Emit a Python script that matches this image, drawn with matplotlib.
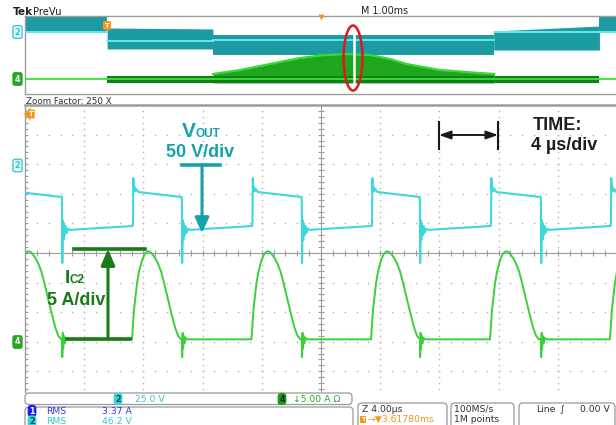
import numpy as np
import matplotlib
matplotlib.use("Agg")
import matplotlib.pyplot as plt
from matplotlib.patches import Ellipse, FancyBboxPatch

# ------------------------------------------------------------------
# Zoomed window: 4 us/div horizontally, channel scales from the labels
# ------------------------------------------------------------------
US_PER_DIV = 4.0
VOUT_V_PER_DIV = 50.0
IC2_A_PER_DIV = 5.0
VOUT_GND_DIV = 3.0      # channel-2 ground marker position (div)
IC2_GND_DIV = -3.0      # channel-4 ground marker position (div)

# VOUT switching edges (us)
vout_rise_us = [-0.78, 7.30, 15.37, 23.45, 31.49, 39.59]
vout_fall_us = [2.50, 10.60, 18.70, 26.68, 34.86]

# VOUT detail around each edge: time after the edge (us) and level (V)
vout_rise_dt = [-0.03, 0.00, 0.02, 0.05, 0.09, 0.14, 0.22, 0.35]
vout_rise_v = [-104.5, -100.0, -23.5, -44.0, -38.0, -46.0, -42.0, -47.0]
vout_fall_dt = [-0.02, 0.00, 0.02, 0.06, 0.10, 0.14, 0.19, 0.25, 0.32, 0.42, 0.55]
vout_fall_v = [-55.5, -60.0, -167.0, -95.0, -128.0, -100.0, -120.0, -105.0,
               -116.0, -109.0, -111.0]

# IC2 current pulses: start times (us) and pulse shape (us after start, A)
ic2_start_us = [-0.86, 7.23, 15.30, 23.38, 31.42, 39.52]
ic2_pulse_dt = [0.00, 0.14, 0.34, 0.47, 0.68, 0.88, 1.08, 1.28, 1.55, 1.76,
                1.96, 2.16, 2.36, 2.64, 2.91, 3.11, 3.31]
ic2_pulse_a = [0.4, 5.5, 9.9, 11.8, 13.8, 14.9, 15.3, 15.1, 14.2, 13.2,
               11.9, 10.0, 7.9, 5.0, 2.4, 1.0, 0.4]
# IC2 ringing at each VOUT falling edge
ic2_ring_dt = [0.00, 0.02, 0.05, 0.08, 0.12, 0.17, 0.24, 0.32]
ic2_ring_a = [0.4, -2.6, 1.5, -1.2, 1.0, -0.3, 0.7, 0.4]

# ------------------------------------------------------------------
# Overview record: 1 ms/div, envelope of each channel (div)
# ------------------------------------------------------------------
ov_seg_ms = [0.00, 1.39, 3.18, 7.93, 9.72, 10.0]
ch2_env_top0 = [3.90, 2.77, 2.10, 2.46, 3.90]
ch2_env_top1 = [3.90, 2.67, 2.10, 2.97, 3.90]
ch2_env_bot = [2.26, 0.62, 0.05, 0.51, 2.26]
ch2_env_mid = [2.36, 1.44, 1.54, 2.36, 2.36]
ch4_env_top = [-2.46, -2.15, -2.15, -2.15, -2.46]
ch4_env_bot = [-2.46, -2.87, -2.87, -2.87, -2.46]
ch4_env_mid = [-2.46, -2.46, -2.46, -2.46, -2.46]
ch4_crest_ms = [3.18, 3.64, 3.98, 4.31, 4.65, 4.99, 5.41, 5.84, 6.18, 6.45,
                7.02, 7.70, 7.94]
ch4_crest_div = [-1.95, -1.54, -1.13, -0.72, -0.31, -0.05, 0.10, 0.00, -0.41,
                 -0.92, -1.54, -1.85, -1.95]
zoom_pos_ms = 5.57

# readouts
ch2_scale_txt = "25.0 V"
ch4_scale_txt = "\u21935.00 A \u03a9"
rms_ch1_txt = "3.37 A"
rms_ch2_txt = "46.2 V"

# ------------------------------------------------------------------
CYAN = "#3ed8da"
GREEN = "#3ccf3c"
TEAL_TXT = "#16a2a8"
GREEN_TXT = "#187a18"
GRID = "#b2b2b2"
FRAME = "#9c9c9c"
ORANGE = "#f2961c"
SCOPE_FONT = ["DejaVu Sans"]
NOTE_FONT = ["Liberation Sans", "DejaVu Sans"]

W, H = 616, 425
fig = plt.figure(figsize=(W / 100, H / 100), dpi=100)
fig.patch.set_facecolor("white")


def rect(x0, y0, x1, y1):
    return [x0 / W, 1 - y1 / H, (x1 - x0) / W, (y1 - y0) / H]


ax = fig.add_axes(rect(25, 105, 617, 392))
ov = fig.add_axes(rect(25, 16, 616, 94))
ui = fig.add_axes([0, 0, 1, 1])
ui.set_xlim(0, W)
ui.set_ylim(H, 0)
ui.axis("off")
ui.patch.set_alpha(0)
ui.set_zorder(5)

# ---------------- main graticule ----------------
ax.set_xlim(0, 10 * US_PER_DIV)
ax.set_ylim(-4.7, 5.0)
ax.set_xticks([])
ax.set_yticks([])
for s in ("right", "bottom"):
    ax.spines[s].set_visible(False)
ax.spines["left"].set_color(FRAME)
ax.spines["left"].set_linewidth(1.0)
ax.spines["top"].set_color(FRAME)
ax.spines["top"].set_linewidth(1.8)

minor_y = np.arange(-4.6, 5.0, 0.2)
minor_x = np.arange(0, 10 * US_PER_DIV + 0.01, US_PER_DIV / 5)
for k in range(1, 11):
    if k == 5:
        continue
    ax.plot(np.full_like(minor_y, k * US_PER_DIV), minor_y, ls="none",
            marker="s", ms=1.0, mfc=GRID, mec="none")
for k in range(-4, 5):
    if k == 0:
        continue
    ax.plot(minor_x, np.full_like(minor_x, k), ls="none", marker="s",
            ms=1.0, mfc=GRID, mec="none")
ax.axvline(5 * US_PER_DIV, color=FRAME, lw=0.8)
ax.axhline(0, color=FRAME, lw=0.8)
ax.vlines(minor_x, -0.09, 0.09, color=FRAME, lw=0.8)
ax.hlines(minor_y, 5 * US_PER_DIV - 0.17, 5 * US_PER_DIV + 0.17, color=FRAME, lw=0.8)
ax.hlines(minor_y, 0, 0.17, color=FRAME, lw=0.8)

# ---------------- VOUT trace ----------------
pts = []
for tr in vout_rise_us:
    pts += [(tr + d, v) for d, v in zip(vout_rise_dt, vout_rise_v)]
for tf in vout_fall_us:
    pts += [(tf + d, v) for d, v in zip(vout_fall_dt, vout_fall_v)]
pts.sort()
vt = np.array([p[0] for p in pts])
vv = np.array([p[1] for p in pts])
ax.plot(vt, vv / VOUT_V_PER_DIV + VOUT_GND_DIV, color=CYAN, lw=1.5,
        solid_joinstyle="round", zorder=3)

# ---------------- IC2 trace ----------------
pts = []
for ts in ic2_start_us:
    pts += [(ts + d, a) for d, a in zip(ic2_pulse_dt, ic2_pulse_a)]
for tf in vout_fall_us:
    pts += [(tf + d, a) for d, a in zip(ic2_ring_dt, ic2_ring_a)]
pts.sort()
it = np.array([p[0] for p in pts])
ia = np.array([p[1] for p in pts])
ax.plot(it, ia / IC2_A_PER_DIV + IC2_GND_DIV, color=GREEN, lw=1.4,
        solid_joinstyle="round", zorder=3)


# ---------------- annotations ----------------
def px(x, y):
    return ((x - 25) / 14.8, (253 - y) / 29.6)


# VOUT scale marker
ax.plot(*zip(px(182, 165), px(220, 165)), color=TEAL_TXT, lw=2.6, zorder=4)
ax.annotate("", xy=px(202, 233), xytext=px(202, 165),
            arrowprops=dict(arrowstyle="-|>,head_length=0.65,head_width=0.3",
                            color=TEAL_TXT, lw=2.2, mutation_scale=14,
                            shrinkA=0, shrinkB=0), zorder=4)
ax.text(*px(182, 137), "V", color=TEAL_TXT, fontsize=15, fontweight="bold",
        family=NOTE_FONT, ha="left", va="baseline")
ax.text(*px(196, 137), "OUT", color=TEAL_TXT, fontsize=8.5, fontweight="bold",
        family=NOTE_FONT, ha="left", va="baseline")
ax.text(*px(200, 157), "50 V/div", color=TEAL_TXT, fontsize=13,
        fontweight="bold", family=NOTE_FONT, ha="center", va="baseline")

# time scale marker
ax.annotate("", xy=px(498, 135), xytext=px(439, 135),
            arrowprops=dict(arrowstyle="<|-|>,head_length=0.7,head_width=0.25",
                            color="#1a1a1a", lw=1.4, mutation_scale=10,
                            shrinkA=0, shrinkB=0))
for xx in (439, 498):
    ax.plot(*zip(px(xx, 122), px(xx, 149)), color="#1a1a1a", lw=1.5)
ax.text(*px(533, 130), "TIME:", color="#1e1e1e", fontsize=13,
        fontweight="bold", family=NOTE_FONT, ha="left", va="baseline")
ax.text(*px(531, 150), "4 \u00b5s/div", color="#1e1e1e", fontsize=13,
        fontweight="bold", family=NOTE_FONT, ha="left", va="baseline")

# IC2 scale marker
ax.plot(*zip(px(74, 249), px(145, 249)), color=GREEN_TXT, lw=2.6, zorder=4)
ax.plot(*zip(px(67, 339), px(130, 339)), color=GREEN_TXT, lw=2.6, zorder=4)
ax.annotate("", xy=px(108, 249), xytext=px(108, 339),
            arrowprops=dict(arrowstyle="-|>,head_length=0.7,head_width=0.3",
                            color=GREEN_TXT, lw=2.2, mutation_scale=14,
                            shrinkA=0, shrinkB=0), zorder=4)
ax.text(*px(65, 283), "I", color=GREEN_TXT, fontsize=14, fontweight="bold",
        family=NOTE_FONT, ha="left", va="baseline")
ax.text(*px(70, 283), "C2", color=GREEN_TXT, fontsize=8.5, fontweight="bold",
        family=NOTE_FONT, ha="left", va="baseline")
ax.text(*px(76, 305), "5 A/div", color=GREEN_TXT, fontsize=13,
        fontweight="bold", family=NOTE_FONT, ha="center", va="baseline")

# ---------------- overview record ----------------
ov.set_xlim(0, 10)
ov.set_ylim(-4, 4)
ov.set_xticks([])
ov.set_yticks([])
ov.spines["right"].set_visible(False)
for s in ("left", "top", "bottom"):
    ov.spines[s].set_color(FRAME)
    ov.spines[s].set_linewidth(1.0)

for i in range(len(ov_seg_ms) - 1):
    x0, x1 = ov_seg_ms[i], ov_seg_ms[i + 1]
    ov.fill_between([x0, x1], [ch2_env_bot[i]] * 2,
                    [ch2_env_top0[i], ch2_env_top1[i]],
                    color="#1c9ba2", lw=0, zorder=2)
    ov.plot([x0, x1], [ch2_env_mid[i]] * 2, color="#66f0f2", lw=1.3, zorder=3)
    ov.fill_between([x0, x1], [ch4_env_bot[i]] * 2, [ch4_env_top[i]] * 2,
                    color="#12801a", lw=0, zorder=2)

ov.fill_between(ch4_crest_ms, [ch4_env_bot[2]] * len(ch4_crest_ms),
                ch4_crest_div, color="#1fa61f", lw=0, zorder=2)
ov.fill_between(ch4_crest_ms, [ch4_env_top[2]] * len(ch4_crest_ms),
                [ch4_env_bot[2]] * len(ch4_crest_ms), color="#12801a", lw=0,
                zorder=2)
ov.plot(ch4_crest_ms, ch4_crest_div, color="#38d838", lw=1.6, zorder=3)
for i in range(len(ov_seg_ms) - 1):
    ov.plot([ov_seg_ms[i], ov_seg_ms[i + 1]], [ch4_env_mid[i]] * 2,
            color="#3ee03e", lw=1.3, zorder=3)

ov.plot([zoom_pos_ms, zoom_pos_ms], [2.77, -2.97], color="white", lw=1.8,
        zorder=4)
ov.add_patch(Ellipse((zoom_pos_ms - 0.02, -0.31), 0.32, 6.67, fill=False,
                     ec="#e01818", lw=1.8, zorder=5))

# ---------------- scope chrome ----------------
ui.text(13, 15, "Tek", fontsize=7.6, fontweight="bold", family=SCOPE_FONT,
        va="baseline", color="#202020")
ui.text(33, 15, "PreVu", fontsize=7.2, family=SCOPE_FONT, va="baseline",
        color="#202020")
ui.text(361, 14, "M 1.00ms", fontsize=6.9, family=SCOPE_FONT, va="baseline",
        color="#202020")
ui.text(26, 103.5, "Zoom Factor: 250 X", fontsize=6.3, family=SCOPE_FONT,
        va="baseline", color="#303030")
ui.plot([321], [16.5], marker="v", ms=4.5, color=ORANGE, mec="none")

# trigger markers
ui.text(107, 25.5, "T", fontsize=4.8, fontweight="bold", family=SCOPE_FONT,
        color="white", ha="center", va="center",
        bbox=dict(boxstyle="round,pad=0.25,rounding_size=0.3", fc=ORANGE,
                  ec="none"))
ui.text(31, 114, "T", fontsize=4.8, fontweight="bold", family=SCOPE_FONT,
        color="white", ha="center", va="center",
        bbox=dict(boxstyle="larrow,pad=0.2", fc=ORANGE, ec="none"))

# channel ground markers
for y in (32, 165.5):
    ui.text(17.5, y, "2", fontsize=5.8, fontweight="bold", family=SCOPE_FONT,
            color="#2cc6cc", ha="center", va="center",
            bbox=dict(boxstyle="round,pad=0.22,rounding_size=0.25",
                      fc="#e4fbfb", ec="#2cc6cc", lw=0.9))
for y in (79, 342):
    ui.text(17.5, y, "4", fontsize=5.8, fontweight="bold", family=SCOPE_FONT,
            color="white", ha="center", va="center",
            bbox=dict(boxstyle="round,pad=0.22,rounding_size=0.25",
                      fc="#23a823", ec="#23a823", lw=0.9))


def readout_box(x0, y0, x1, y1):
    ui.add_patch(FancyBboxPatch((x0, y0), x1 - x0, y1 - y0,
                                boxstyle="round,pad=0,rounding_size=4",
                                fc="white", ec="#9a9a9a", lw=0.9,
                                mutation_aspect=1))


readout_box(25, 393, 352, 404.5)
readout_box(25, 407, 353, 432)
readout_box(358, 403, 447, 432)
readout_box(451, 403, 514, 432)
readout_box(519, 403, 615, 432)


def badge(x, y, label, fc, tc):
    ui.text(x, y, label, fontsize=5.8, fontweight="bold", family=SCOPE_FONT,
            color=tc, ha="center", va="center",
            bbox=dict(boxstyle="round,pad=0.2,rounding_size=0.45", fc=fc,
                      ec="none"))


RO = 6.7
badge(118, 399, "2", "#3ad4d8", "#10464a")
ui.text(135, 399, ch2_scale_txt, fontsize=RO, family=SCOPE_FONT,
        color="#33c8cc", va="center")
badge(282, 399, "4", "#1e9a1e", "#0a2e0a")
ui.text(293, 399, ch4_scale_txt, fontsize=RO, family=SCOPE_FONT,
        color="#2aaa2a", va="center")

badge(32, 411, "1", "#1e1ee6", "white")
ui.text(46, 411, "RMS", fontsize=RO, family=SCOPE_FONT, color="#3030e0",
        va="center")
ui.text(102, 411, rms_ch1_txt, fontsize=RO, family=SCOPE_FONT,
        color="#3030e0", va="center")
badge(32, 421.5, "2", "#3ad4d8", "#10464a")
ui.text(46, 421.5, "RMS", fontsize=RO, family=SCOPE_FONT, color="#33c8cc",
        va="center")
ui.text(102, 421.5, rms_ch2_txt, fontsize=RO, family=SCOPE_FONT,
        color="#33c8cc", va="center")

ui.text(362, 409.5, "Z 4.00\u00b5s", fontsize=RO, family=SCOPE_FONT,
        color="#303030", va="center")
ui.text(363, 419.5, "T", fontsize=4.5, fontweight="bold", family=SCOPE_FONT,
        color="white", ha="center", va="center",
        bbox=dict(boxstyle="square,pad=0.2", fc=ORANGE, ec="none"))
ui.text(368, 419.5, "\u2192\u25bc3.61780ms", fontsize=RO, family=SCOPE_FONT,
        color=ORANGE, va="center")
ui.text(454, 409.5, "100MS/s", fontsize=RO, family=SCOPE_FONT,
        color="#303030", va="center")
ui.text(454, 419.5, "1M points", fontsize=RO, family=SCOPE_FONT,
        color="#303030", va="center")
ui.text(536, 409.5, "Line", fontsize=RO, family=SCOPE_FONT, color="#303030",
        va="center")
ui.text(560, 409.5, "\u222b", fontsize=RO, family=SCOPE_FONT, color="#303030",
        va="center")
ui.text(580, 409.5, "0.00 V", fontsize=RO, family=SCOPE_FONT,
        color="#303030", va="center")

fig.savefig("out.png", dpi=100, facecolor="white")
